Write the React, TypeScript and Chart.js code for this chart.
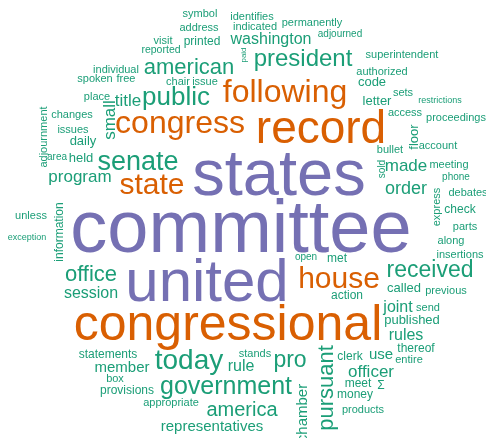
import React, { useEffect, useRef } from "react";
import { Chart, registerables } from "chart.js";

Chart.register(...registerables);

// Word cloud data: word, layout position (x, y in a 486 x 438 layout space), weight (font px), vertical flag
const words = [
  "symbol", "identifies", "permanently", "address", "indicated", "adjourned", "visit", "printed", "reported", "washington",
  "paid", "president", "superintendent", "american", "individual", "authorized", "spoken", "free", "code", "chair",
  "issue", "following", "sets", "place", "title", "public", "restrictions", "letter", "small", "access",
  "proceedings", "congress", "record", "changes", "adjournment", "issues", "daily", "area", "held", "senate",
  "state", "program", "states", "bullet", "floor", "account", "sold", "made", "meeting", "phone",
  "order", "debates", "express", "check", "parts", "along", "insertions", "met", "open", "committee",
  "unless", "exception", "information", "office", "united", "house", "received", "session", "action", "called",
  "previous", "congressional", "joint", "send", "published", "rules", "statements", "member", "today", "rule",
  "stands", "pro", "pursuant", "chamber", "government", "box", "provisions", "appropriate", "america", "representatives",
  "clerk", "use", "thereof", "entire", "officer", "meet", "Σ", "money", "products",
];

const xs = [
  200, 252, 312, 199, 255, 340, 163, 202, 161, 271,
  246, 303, 402, 189, 116, 382, 95, 126, 372, 178,
  205, 285, 403, 97, 128, 176, 440, 377, 115, 405,
  456, 180, 321, 72, 47, 73, 83, 57, 81, 138,
  152, 80, 279, 390, 418, 438, 385, 406, 449, 456,
  406, 468, 440, 460, 465, 451, 460, 337, 306, 241,
  31, 27, 63, 91, 207, 339, 430, 91, 347, 404,
  446, 228, 398, 428, 412, 406, 108, 122, 189, 241,
  255, 290, 333, 307, 226, 115, 127, 171, 242, 212,
  350, 381, 416, 409, 371, 358, 381, 355, 363,
];

const ys = [
  17, 20, 26, 31, 30, 37, 44, 45, 53, 44,
  55, 66, 58, 74, 73, 75, 82, 82, 86, 85,
  85, 102, 96, 100, 106, 105, 103, 105, 120, 116,
  121, 133, 143, 118, 137, 133, 145, 160, 162, 170,
  194, 182, 195, 153, 137, 149, 169, 171, 168, 180,
  194, 196, 207, 213, 230, 244, 258, 262, 260, 252,
  219, 240, 232, 281, 301, 288, 277, 298, 299, 292,
  294, 340, 312, 311, 324, 340, 358, 372, 369, 371,
  357, 367, 388, 413, 394, 382, 394, 406, 416, 431,
  360, 359, 352, 363, 377, 387, 389, 398, 413,
];

const weights = [
  11, 11, 11, 11, 11, 10, 11, 12, 10.5, 16,
  8, 24, 11, 22, 11, 11, 11, 11, 13, 11,
  11, 32, 11, 11, 17, 26, 9, 13, 17, 11,
  11, 32, 46, 11, 11, 11, 13, 10, 13, 27,
  30, 17, 65, 11, 13, 11, 10, 17, 11, 10,
  18, 11, 11, 12, 11, 11, 11, 12, 10, 74,
  11, 9, 12, 22, 60, 30, 23, 16, 12, 13,
  11, 50, 16, 11, 13, 16, 12, 15, 28, 16,
  11, 23, 22, 15, 25, 11, 12, 11, 20, 15,
  12, 15, 12, 11, 17, 12, 12, 12, 11,
];

const verticalWords = ["paid", "small", "adjournment", "floor", "sold", "express", "information", "pursuant", "chamber"];

const palette = ["#1b9e77", "#d95f02", "#7570b3"];

function colorFor(w: number): string {
  if (w >= 55) return palette[2];
  if (w >= 29.5) return palette[1];
  return palette[0];
}

const wordPlugin = {
  id: "wordText",
  afterDatasetsDraw(chart: any) {
    const meta = chart.getDatasetMeta(0);
    const ctx = chart.ctx as CanvasRenderingContext2D;
    meta.data.forEach((pt: any, i: number) => {
      ctx.save();
      ctx.font = `${weights[i]}px "Liberation Sans", Arial, sans-serif`;
      ctx.fillStyle = colorFor(weights[i]);
      ctx.textAlign = "center";
      ctx.textBaseline = "alphabetic";
      ctx.translate(pt.x, pt.y);
      if (verticalWords.includes(words[i])) ctx.rotate(-Math.PI / 2);
      ctx.fillText(words[i], 0, 0);
      ctx.restore();
    });
  },
};

export default function App() {
  const ref = useRef<HTMLCanvasElement | null>(null);
  useEffect(() => {
    document.body.style.margin = "0";
    if (!ref.current) return;
    const chart = new Chart(ref.current, {
      type: "scatter",
      data: {
        datasets: [
          {
            data: words.map((_, i) => ({ x: xs[i], y: ys[i] })),
            pointRadius: 0,
            pointHoverRadius: 0,
          },
        ],
      },
      options: {
        animation: false,
        responsive: false,
        events: [],
        layout: { padding: 0 },
        plugins: { legend: { display: false }, tooltip: { enabled: false } },
        scales: {
          x: { type: "linear", min: 0, max: 486, display: false },
          y: { type: "linear", min: 0, max: 438, reverse: true, display: false },
        },
      },
      plugins: [wordPlugin],
    });
    return () => chart.destroy();
  }, []);
  return (
    <div style={{ width: 486, height: 438, background: "#fff" }}>
      <canvas ref={ref} width={486} height={438} />
    </div>
  );
}
